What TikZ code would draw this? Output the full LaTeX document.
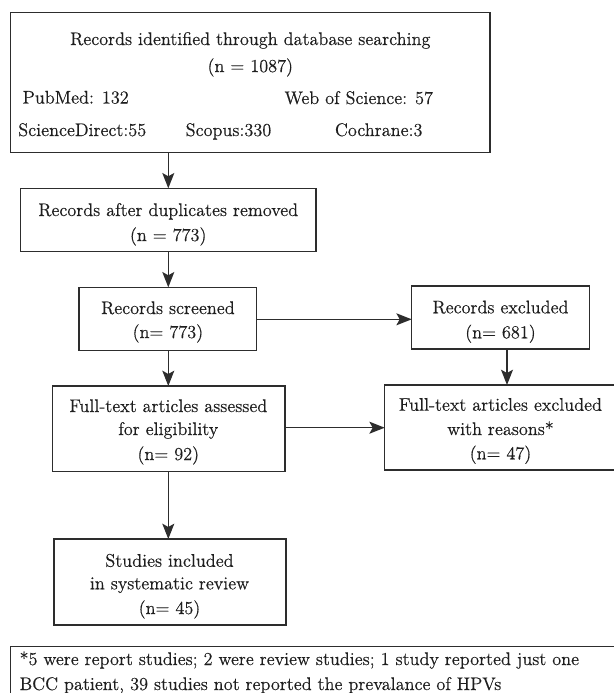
\documentclass[tikz,border=0pt]{standalone}
\usepackage{fontspec}
\newfontfamily\diagfont{Latin Modern Roman}[FakeBold=0.4]
\usetikzlibrary{arrows.meta}
\definecolor{linec}{RGB}{45,45,45}
\definecolor{textc}{RGB}{30,30,30}
\tikzset{
  box/.style args={#1/#2}{draw=linec, line width=1pt, minimum width={#1*0.75pt}, minimum height={#2*0.75pt}, inner sep=0pt, outer sep=0pt},
  txt/.style={font=\diagfont\fontsize{13.7pt}{18pt}\selectfont, text=textc, inner sep=0pt, outer sep=0pt, anchor=base},
  txtl/.style={txt, anchor=base west},
  txtr/.style={txt, anchor=base east},
  arr/.style={draw=linec, line width=1pt, -{Stealth[length=11.5pt,width=9pt,inset=2.5pt]}}
}
\begin{document}
\begin{tikzpicture}[x=0.75pt,y=-0.75pt]
\useasboundingbox (0,0) rectangle (614,693);
% boxes
\node[box=479.3/139.6] (b1) at (250.35,82.5) {};
\node[box=295.7/63.4] (b2) at (168.15,220) {};
\node[box=177.7/63.4] (b3) at (167.85,319) {};
\node[box=177.6/63] (b4) at (500.5,317.5) {};
\node[box=235.3/85] (b5) at (502.35,427.5) {};
\node[box=232.3/85.7] (b6) at (168.85,428.85) {};
\node[box=232/86] (b7) at (170,582) {};
\node[box=609.4/53.3] (fn) at (315.3,673.35) {};
% texts box 1
\node[txt] (t1a) at (250.3,45) {Records identified through database searching};
\node[txt] (t1b) at (250.3,72) {(n = 1087)};
\node[txtl] (t1c) at (22.7,103.5) {PubMed: 132};
\node[txtr] (t1d) at (433,104) {Web of Science: 57};
\node[txtl] (t1e) at (18.3,136) {ScienceDirect:55};
\node[txtl] (t1f) at (185.7,136) {Scopus:330};
\node[txtl] (t1g) at (335,136) {Cochrane:3};
% box 2
\node[txt] (t2a) at (168.2,216) {Records after duplicates removed};
\node[txt] (t2b) at (168.2,241) {(n = 773)};
% box 3
\node[txt] (t3a) at (167.9,314) {Records screened};
\node[txt] (t3b) at (167.9,338) {(n= 773)};
% box 4
\node[txt] (t4a) at (500.5,313.3) {Records excluded};
\node[txt] (t4b) at (500.5,338.3) {(n= 681)};
% box 5
\node[txt] (t5a) at (500.5,410.7) {Full-text articles excluded};
\node[txt] (t5b) at (500.5,435) {with reasons*};
\node[txt] (t5c) at (500.5,459.3) {(n= 47)};
% box 6
\node[txt] (t6a) at (168.3,412) {Full-text articles assessed};
\node[txt] (t6b) at (168.3,435) {for eligibility};
\node[txt] (t6c) at (168.3,460) {(n= 92)};
% box 7
\node[txt] (t7a) at (169.5,566.7) {Studies included};
\node[txt] (t7b) at (169.5,589.3) {in systematic review};
\node[txt] (t7c) at (169.5,614) {(n= 45)};
% footnote
\node[txtl] (tfa) at (19.6,665) {*5 were report studies; 2 were review studies; 1 study reported just one};
\node[txtl] (tfb) at (19.6,690) {BCC patient, 39 studies not reported the prevalance of HPVs};
% connectors
\coordinate (lx) at (168.3,0);
\coordinate (rx) at (507,0);
\coordinate (hy1) at (0,319.3);
\coordinate (hy2) at (0,427.7);
\draw[arr] (b1.south -| lx) -- (b2.north -| lx);
\draw[arr] (b2.south -| lx) -- (b3.north -| lx);
\draw[arr] (b3.south -| lx) -- (b6.north -| lx);
\draw[arr] (b6.south -| lx) -- (b7.north -| lx);
\draw[arr] (b3.east |- hy1) -- (b4.west |- hy1);
\draw[arr] (b6.east |- hy2) -- (b5.west |- hy2);
\draw[arr] (b4.south -| rx) -- (b5.north -| rx);
\end{tikzpicture}
\end{document}
